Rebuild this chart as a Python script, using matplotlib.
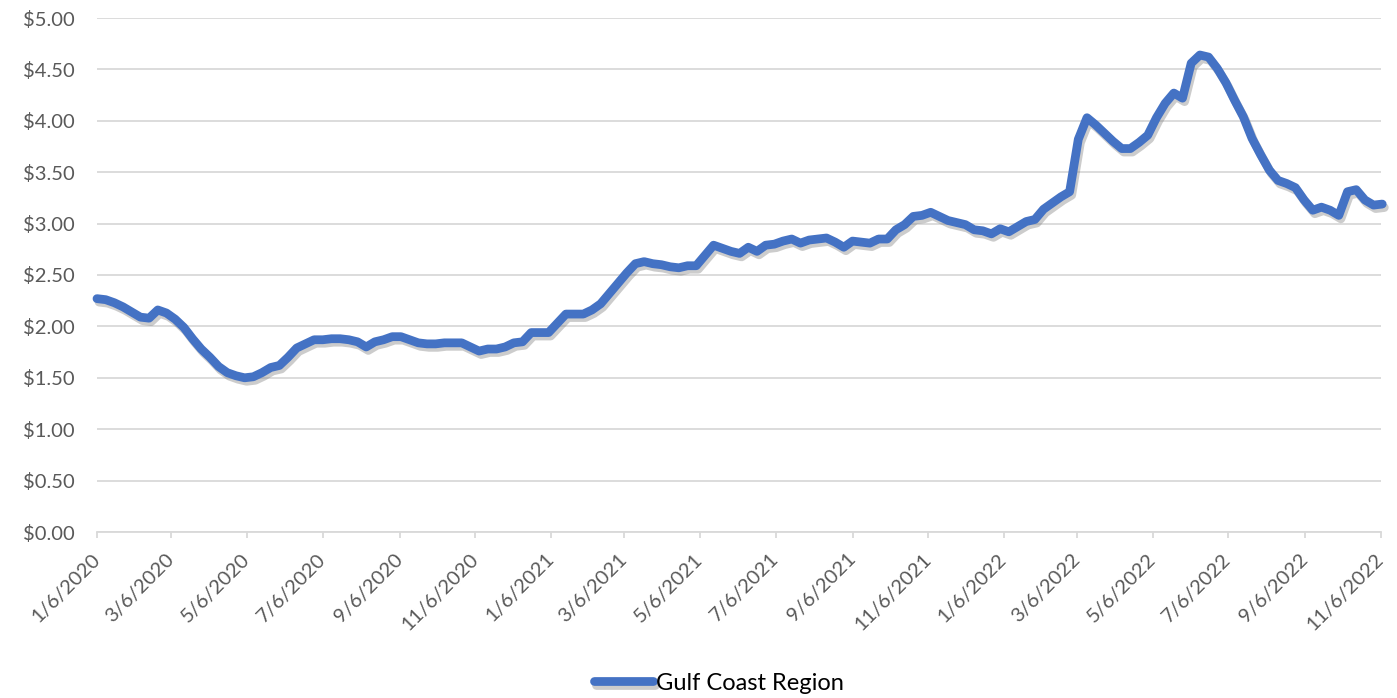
import numpy as np
import pandas as pd
import matplotlib
matplotlib.use("Agg")
import matplotlib.pyplot as plt
import matplotlib.patheffects as pe

# weekly prices, $/gal (Mondays from 1/6/2020)
start_date = "2020-01-06"
prices_2020 = [2.27, 2.26, 2.23, 2.19, 2.14, 2.09, 2.08, 2.16, 2.13, 2.07, 1.99, 1.88, 1.78,
               1.70, 1.61, 1.55, 1.52, 1.50, 1.51, 1.55, 1.60, 1.62, 1.70, 1.79, 1.83, 1.87,
               1.87, 1.88, 1.88, 1.87, 1.85, 1.80, 1.85, 1.87, 1.90, 1.90, 1.87, 1.84, 1.83,
               1.83, 1.84, 1.84, 1.84, 1.80, 1.76, 1.78, 1.78, 1.80, 1.84, 1.85, 1.94, 1.94]
prices_2021 = [1.94, 2.03, 2.12, 2.12, 2.12, 2.16, 2.22, 2.32, 2.42, 2.52, 2.61, 2.63, 2.61,
               2.60, 2.58, 2.57, 2.59, 2.59, 2.69, 2.79, 2.76, 2.73, 2.71, 2.77, 2.73, 2.79,
               2.80, 2.83, 2.85, 2.81, 2.84, 2.85, 2.86, 2.82, 2.77, 2.83, 2.82, 2.81, 2.85,
               2.85, 2.94, 2.99, 3.07, 3.08, 3.11, 3.07, 3.03, 3.01, 2.99, 2.94, 2.93, 2.90]
prices_2022 = [2.95, 2.92, 2.97, 3.02, 3.04, 3.14, 3.20, 3.26, 3.31, 3.82, 4.03, 3.96, 3.88,
               3.80, 3.73, 3.73, 3.79, 3.86, 4.03, 4.17, 4.27, 4.22, 4.56, 4.64, 4.62, 4.51,
               4.37, 4.20, 4.04, 3.83, 3.67, 3.52, 3.42, 3.39, 3.35, 3.23, 3.13, 3.16, 3.13,
               3.08, 3.31, 3.33, 3.23, 3.18, 3.19]
series_name = "Gulf Coast Region"

y_ticks = [0.0, 0.5, 1.0, 1.5, 2.0, 2.5, 3.0, 3.5, 4.0, 4.5, 5.0]

prices = prices_2020 + prices_2021 + prices_2022
dates = pd.date_range(start_date, periods=len(prices), freq="7D")
tick_dates = pd.date_range("2020-01-06", "2022-11-06", freq=pd.DateOffset(months=2))

plt.rcParams['font.family'] = ['Lato', 'DejaVu Sans']

W, H = 1397, 698
fig = plt.figure(figsize=(W / 100, H / 100), dpi=100)
ax = fig.add_axes([97 / W, 1 - 532 / H, (1381 - 97) / W, (532 - 18) / H])

grey = "#D9D9D9"
ax.plot(dates, prices, color="#4472C4", lw=6.3, solid_capstyle="round",
        solid_joinstyle="round", clip_on=False, zorder=3, label=series_name,
        path_effects=[pe.SimpleLineShadow(offset=(1.5, -2.5), shadow_color="#808080", alpha=0.4),
                      pe.Normal()])

ax.set_ylim(0, 5)
ax.set_yticks(y_ticks)
ax.set_yticklabels(["${:.2f}".format(v) for v in y_ticks])
ax.set_xlim(pd.Timestamp("2020-01-06"), pd.Timestamp("2022-11-06"))
ax.set_xticks(tick_dates)
ax.set_xticklabels(["%d/%d/%d" % (d.month, d.day, d.year) for d in tick_dates],
                   rotation=45, ha="right", va="center", rotation_mode="anchor")

ax.yaxis.grid(True, color=grey, lw=1.3)
ax.set_axisbelow(True)
for s in ["top", "right", "left"]:
    ax.spines[s].set_visible(False)
ax.spines["bottom"].set_color(grey)
ax.spines["bottom"].set_linewidth(1.3)
ax.tick_params(axis="y", length=0, pad=16, labelsize=14.5, labelcolor="#595959")
ax.tick_params(axis="x", length=4.5, width=1.3, color=grey, pad=13, labelsize=14.5,
               labelcolor="#595959")

fig.legend(loc="center", bbox_to_anchor=(719 / W, 1 - 683 / H), frameon=False,
           fontsize=17, handlelength=2.5, handletextpad=0.1)

fig.savefig("out.png", dpi=100)
